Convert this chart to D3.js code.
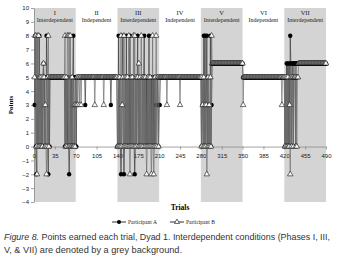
<!DOCTYPE html>
<html>
<head>
<meta charset="utf-8">
<script src="https://d3js.org/d3.v7.min.js"></script>
<style>
body { margin: 0; background: #fff; }
</style>
</head>
<body>
<svg id="chart" width="342" height="272"></svg>
<script>
// phases (70 trials each)
const phaseNames = ["I", "II", "III", "IV", "V", "VI", "VII"];
const phaseTypes = ["Interdependent", "Independent", "Interdependent", "Independent", "Interdependent", "Independent", "Interdependent"];
const phaseStarts = [0, 70, 140, 210, 280, 350, 420];
const phaseEnds = [70, 140, 210, 280, 350, 420, 490];
const xTicks = [0, 35, 70, 105, 140, 175, 210, 245, 280, 315, 350, 385, 420, 455, 490];
const yTicks = [-4, -3, -2, -1, 0, 1, 2, 3, 4, 5, 6, 7, 8, 9, 10];

// points per trial, trials 1..490
const partA = [
  // I
  3,8,0,-2,8,0,5,0,8,0, 5,0,5,0,5,6,0,5,0,0, 8,5,0,-2,5,0,5,5,5,5,
  5,5,5,5,5,5,5,5,5,5, 5,5,5,5,5,5,5,5,5,5, 5,0,5,0,5,0,5,0,-2,0,
  5,0,5,0,5,8,0,0,5,5,
  // II
  0,5,5,5,5,5,5,5,5,5, 5,5,5,5,5,3,5,5,5,5, 5,5,5,5,5,5,5,5,5,5,
  5,5,5,5,5,5,5,5,5,5, 5,5,5,5,5,5,5,5,5,5, 5,5,5,5,5,5,5,5,3,5,
  5,5,5,5,5,5,5,5,5,0,
  // III
  0,8,0,5,0,-2,0,5,8,0, -2,0,5,0,8,0,5,0,5,0, 8,0,5,0,5,0,5,0,-2,0,
  5,0,5,8,0,5,0,5,0,0, 0,5,0,5,8,0,5,0,5,0, 5,0,8,0,5,0,5,0,5,0,
  5,0,5,0,3,3,5,3,0,3,
  // IV
  3,5,5,5,5,5,5,5,5,5, 5,5,5,5,5,5,5,5,5,5, 5,5,5,5,5,5,5,5,5,5,
  5,5,5,5,5,5,5,5,5,5, 5,5,5,5,5,5,5,5,5,5, 5,5,5,5,5,5,5,5,5,5,
  5,5,5,5,5,5,5,5,5,5,
  // V
  0,5,3,0,8,0,8,0,3,8, 0,5,0,3,0,8,0,3,6,6, 6,6,6,6,6,6,6,6,6,6,
  6,6,6,6,6,6,6,6,6,6, 6,6,6,6,6,6,6,6,6,6, 6,6,6,6,6,6,6,6,6,6,
  6,6,6,6,6,6,6,6,6,6,
  // VI
  5,5,5,5,5,5,5,5,5,5, 5,5,5,5,5,5,5,5,5,5, 5,5,5,5,5,5,5,5,5,5,
  5,5,5,5,5,5,5,5,5,5, 5,5,5,5,5,5,5,5,5,5, 5,5,5,5,5,5,5,5,5,5,
  5,5,5,5,5,5,5,5,5,5,
  // VII
  0,5,0,6,0,6,0,6,0,8, 6,0,6,6,0,6,6,6,0,6, 6,6,6,6,6,6,6,6,6,6,
  6,6,6,6,6,6,6,6,6,6, 6,6,6,6,6,6,6,6,6,6, 6,6,6,6,6,6,6,6,6,6,
  6,6,6,6,6,6,6,6,6,6
];
const partB = [
  // I
  5,8,8,0,-2,8,0,8,0,5, 0,5,0,0,5,6,5,0,3,0, -2,0,5,8,0,5,5,5,5,5,
  5,5,5,5,5,5,5,5,5,5, 5,5,5,5,5,5,5,5,5,5, 5,8,0,5,0,8,8,0,8,0,
  8,0,0,5,0,0,0,3,0,3,
  // II
  3,5,3,5,5,3,5,5,3,5, 5,5,5,5,5,5,5,5,5,5, 5,5,5,5,5,5,5,5,5,5,
  5,3,5,5,5,5,5,5,5,5, 5,5,5,5,5,5,3,5,5,5, 5,5,5,5,5,5,5,5,5,5,
  5,5,5,5,5,5,5,5,5,0,
  // III
  0,5,0,5,0,8,0,3,5,0, 8,0,5,0,5,0,5,0,8,0, -2,0,5,0,5,0,8,0,8,0,
  5,0,5,5,0,6,0,5,0,8, 0,5,0,5,5,0,5,0,-2,0, 5,0,5,0,5,0,-2,0,8,0,
  -2,0,5,0,8,0,5,5,0,5,
  // IV
  5,5,5,5,5,5,5,5,5,5, 5,5,3,5,5,5,5,5,5,5, 5,5,5,5,5,5,5,5,5,5,
  5,5,5,5,3,5,5,5,5,5, 5,5,5,5,5,5,5,5,5,5, 5,5,5,5,5,5,5,5,5,5,
  5,5,5,5,5,5,5,5,5,5,
  // V
  0,5,3,0,5,0,3,0,3,-2, 0,5,0,3,0,5,0,8,6,6, 6,6,6,6,6,6,6,6,6,6,
  6,6,6,6,6,6,6,6,6,6, 6,6,6,6,6,6,6,6,6,6, 6,6,6,6,6,6,6,6,6,6,
  6,6,6,6,6,6,6,6,6,6,
  // VI
  3,5,5,5,5,5,5,5,5,5, 5,5,5,5,5,5,5,5,5,5, 5,5,5,5,5,5,5,5,5,5,
  5,5,5,5,5,5,5,5,5,5, 5,5,5,5,5,5,5,5,5,5, 5,5,5,5,5,5,5,5,5,5,
  5,5,5,5,5,3,5,5,5,5,
  // VII
  0,5,0,5,0,5,0,0,3,-2, 5,0,5,5,0,5,5,5,0,5, 0,5,5,6,6,6,6,6,6,6,
  6,6,6,6,6,6,6,6,6,6, 6,6,6,6,6,6,6,6,6,6, 6,6,6,6,6,6,6,6,6,6,
  6,6,6,6,6,6,6,6,6,6
];

const svg = d3.select('#chart');
svg.append('rect').attr('width', 342).attr('height', 272).attr('fill', '#fff');

const xs = d3.scaleLinear().domain([0, 490]).range([34, 326]);
const ys = d3.scaleLinear().domain([-4, 10]).range([202, 8]);

// grey background for interdependent phases
svg.append('g').selectAll('rect')
  .data(phaseNames.map((d, i) => i).filter(i => phaseTypes[i] == 'Interdependent'))
  .join('rect')
    .attr('x', i => xs(phaseStarts[i]))
    .attr('y', ys(10))
    .attr('width', i => xs(phaseEnds[i]) - xs(phaseStarts[i]))
    .attr('height', ys(-4) - ys(10))
    .attr('fill', '#d4d4d4');

// phase labels
const lab = svg.append('g').attr('font-family', 'Liberation Serif').attr('fill', '#222').attr('text-anchor', 'middle');
phaseNames.forEach((p, i) => {
  const cx = xs((phaseStarts[i] + phaseEnds[i]) / 2);
  lab.append('text').attr('x', cx).attr('y', 15).attr('font-size', 6.5).text(p);
  lab.append('text').attr('x', cx).attr('y', 22).attr('font-size', 6).text(phaseTypes[i]);
});

// axes
const yAxis = svg.append('g')
  .attr('transform', `translate(${xs(0)},0)`)
  .call(d3.axisLeft(ys).tickValues(yTicks).tickSize(3).tickSizeOuter(0).tickPadding(2));
const xAxis = svg.append('g')
  .attr('transform', `translate(0,${ys(0)})`)
  .call(d3.axisBottom(xs).tickValues(xTicks).tickSize(3).tickSizeOuter(0).tickPadding(4));
[yAxis, xAxis].forEach(a => {
  a.selectAll('path, line').attr('stroke', '#8a8a8a').attr('stroke-width', 0.8);
  a.selectAll('text').attr('font-family', 'Liberation Sans').attr('font-size', 6).attr('fill', '#222');
});

// series
const line = d3.line().x((d, i) => xs(i + 1)).y(d => ys(d));

svg.append('path').datum(partA)
  .attr('d', line).attr('fill', 'none').attr('stroke', '#3a3a3a').attr('stroke-width', 0.7);
svg.append('g').selectAll('circle').data(partA).join('circle')
  .attr('cx', (d, i) => xs(i + 1)).attr('cy', d => ys(d))
  .attr('r', 2.2).attr('fill', '#000');

svg.append('path').datum(partB)
  .attr('d', line).attr('fill', 'none').attr('stroke', '#707070').attr('stroke-width', 0.7);
const tri = d3.symbol(d3.symbolTriangle, 13);
svg.append('g').selectAll('path').data(partB).join('path')
  .attr('d', tri)
  .attr('transform', (d, i) => `translate(${xs(i + 1)},${ys(d)})`)
  .attr('fill', '#fff').attr('stroke', '#111').attr('stroke-width', 0.6);

// axis titles
svg.append('text')
  .attr('transform', 'translate(13,105) rotate(-90)')
  .attr('text-anchor', 'middle')
  .attr('font-family', 'Liberation Serif').attr('font-weight', 'bold').attr('font-size', 7)
  .text('Points');
svg.append('text')
  .attr('x', 180).attr('y', 210)
  .attr('text-anchor', 'middle')
  .attr('font-family', 'Liberation Serif').attr('font-weight', 'bold').attr('font-size', 7.5)
  .text('Trials');

// legend
const leg = svg.append('g').attr('font-family', 'Liberation Serif').attr('font-size', 5.5).attr('fill', '#222');
leg.append('line').attr('x1', 112).attr('x2', 126).attr('y1', 222).attr('y2', 222).attr('stroke', '#000').attr('stroke-width', 0.8);
leg.append('circle').attr('cx', 119).attr('cy', 222).attr('r', 2).attr('fill', '#000');
leg.append('text').attr('x', 128).attr('y', 224).text('Participant A');
leg.append('line').attr('x1', 170).attr('x2', 184).attr('y1', 222).attr('y2', 222).attr('stroke', '#000').attr('stroke-width', 0.8);
leg.append('path').attr('d', d3.symbol(d3.symbolTriangle, 11)).attr('transform', 'translate(177,222)')
  .attr('fill', '#fff').attr('stroke', '#000').attr('stroke-width', 0.6);
leg.append('text').attr('x', 186).attr('y', 224).text('Participant B');

// caption
const cap = svg.append('g').attr('font-family', 'Liberation Sans').attr('font-size', 9).attr('fill', '#333');
const c1 = cap.append('text').attr('x', 4).attr('y', 240)
  .attr('textLength', 326).attr('lengthAdjust', 'spacingAndGlyphs');
c1.append('tspan').attr('font-style', 'italic').text('Figure 8.');
c1.append('tspan').text(' Points earned each trial, Dyad 1. Interdependent conditions (Phases I, III,');
cap.append('text').attr('x', 4).attr('y', 253)
  .attr('textLength', 178).attr('lengthAdjust', 'spacingAndGlyphs')
  .text('V, & VII) are denoted by a grey background.');
</script>
</body>
</html>
